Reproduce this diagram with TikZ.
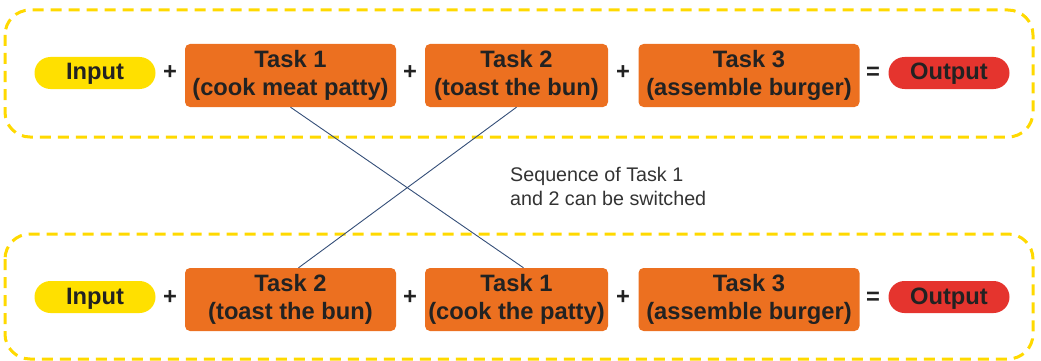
\documentclass[tikz,border=0pt]{standalone}
\usepackage{fontspec}
\setmainfont{Liberation Sans}
\definecolor{taskorange}{RGB}{236,112,32}
\definecolor{inyellow}{RGB}{255,224,0}
\definecolor{outred}{RGB}{229,52,46}
\definecolor{dashyellow}{RGB}{255,217,0}
\definecolor{swapblue}{RGB}{52,78,120}
\definecolor{txtdark}{RGB}{34,34,34}
\definecolor{notegray}{RGB}{51,51,51}

\tikzset{
    boldtxt/.style={text=txtdark, font=\bfseries\fontsize{23.7}{28.4}\selectfont},
    pill/.style={boldtxt, rounded corners=16pt, minimum width=121pt, minimum height=32pt, inner sep=0pt, text height=17pt, text depth=3pt},
    task/.style={boldtxt, fill=taskorange, rounded corners=5pt, minimum height=63pt, inner sep=0pt, align=center},
    op/.style={boldtxt, inner sep=0pt, text height=17pt, text depth=3pt},
    group/.style={draw=dashyellow, line width=3pt, dash pattern=on 11pt off 7pt, rounded corners=25pt},
    swap/.style={draw=swapblue, line width=0.9pt},
}

\begin{document}
\begin{tikzpicture}[x=1pt, y=-1pt]
    \useasboundingbox (0, 0) rectangle (1041, 361);
    \begin{scope}
        % Frame
        \draw[group] (5, 10) rectangle (1033, 137);
        % Recipe, first order
        \node[pill, fill=inyellow] (inA) at (95, 73) {Input};
        \node[op] (p1A) at (170, 73) {+};
        \node[task, minimum width=211pt] (t1A) at (290.5, 75.5) {Task 1\\(cook meat patty)};
        \node[op] (p2A) at (410, 73) {+};
        \node[task, minimum width=183pt] (t2A) at (516.5, 75.5) {Task 2\\(toast the bun)};
        \node[op] (p3A) at (623, 73) {+};
        \node[task, minimum width=221pt] (t3A) at (749, 75.5) {Task 3\\(assemble burger)};
        \node[op] (eqA) at (873, 73) {=};
        \node[pill, fill=outred] (outA) at (949, 73) {Output};
    \end{scope}
    \begin{scope}[yshift=-224pt]
        % Frame
        \draw[group] (5, 10) rectangle (1033, 135);
        % Recipe, swapped order
        \node[pill, fill=inyellow] (inB) at (95, 73) {Input};
        \node[op] (p1B) at (170, 73) {+};
        \node[task, minimum width=211pt] (t2B) at (290.5, 75.5) {Task 2\\(toast the bun)};
        \node[op] (p2B) at (410, 73) {+};
        \node[task, minimum width=183pt] (t1B) at (516.5, 75.5) {Task 1\\(cook the patty)};
        \node[op] (p3B) at (623, 73) {+};
        \node[task, minimum width=221pt] (t3B) at (749, 75.5) {Task 3\\(assemble burger)};
        \node[op] (eqB) at (873, 73) {=};
        \node[pill, fill=outred] (outB) at (949, 73) {Output};
    \end{scope}
    % Crossing lines
    \draw[swap] (t1A.south) -- ([xshift=7pt]t1B.north);
    \draw[swap] (t2A.south) -- ([xshift=8pt]t2B.north);
    % Note
    \node[anchor=north west, align=left, inner sep=0pt, text=notegray,
        font=\fontsize{19.7}{24}\selectfont] (note) at (510, 167)
        {Sequence of Task 1\\and 2 can be switched};
\end{tikzpicture}
\end{document}
